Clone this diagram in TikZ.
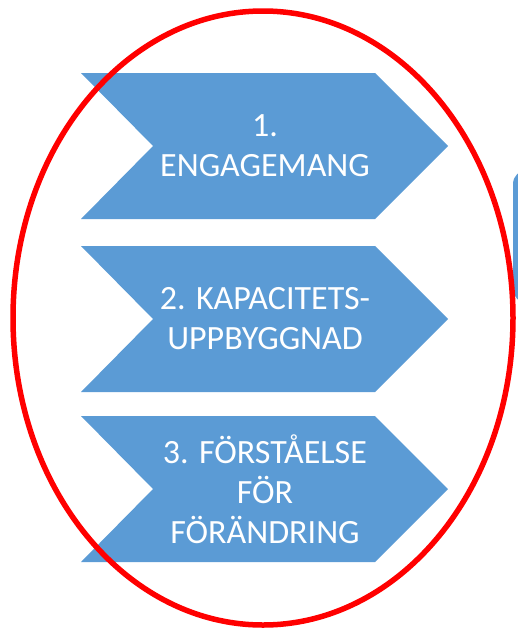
\documentclass[tikz,border=0pt]{standalone}
\usepackage{fontspec}
\setmainfont{Carlito}
\definecolor{stepblue}{RGB}{91,155,213}
\tikzset{
  chevlabel/.style={text=white, align=center, font=\fontsize{34}{40}\selectfont}
}
\begin{document}
\begin{tikzpicture}[x=1pt,y=-1pt]
            \useasboundingbox (0,0) rectangle (518,629);
            \begin{scope}
            \clip (0,0) rectangle (518,629);
            \fill[stepblue, rounded corners=14pt] (513,170) rectangle (560,303);
            \end{scope}
            \fill[stepblue] (81,73) -- (375,73) -- (448,146) -- (375,219) -- (81,219) -- (153,146) -- cycle;
            \fill[stepblue] (81,246) -- (375,246) -- (448,319) -- (375,392) -- (81,392) -- (153,319) -- cycle;
            \fill[stepblue] (81,416) -- (375,416) -- (448,489) -- (375,562) -- (81,562) -- (153,489) -- cycle;
            \node[chevlabel] (engage) at (265,146) {1.\\ENGAGEMANG};
            \node[chevlabel] (capacity) at (265,319) {2. KAPACITETS-\\UPPBYGGNAD};
            \node[chevlabel] (change) at (265,489) {3. FÖRSTÅELSE\\FÖR\\FÖRÄNDRING};
            \draw[red, line width=5.5pt] (263,318) ellipse (250pt and 307pt);
        \end{tikzpicture}
\end{document}
